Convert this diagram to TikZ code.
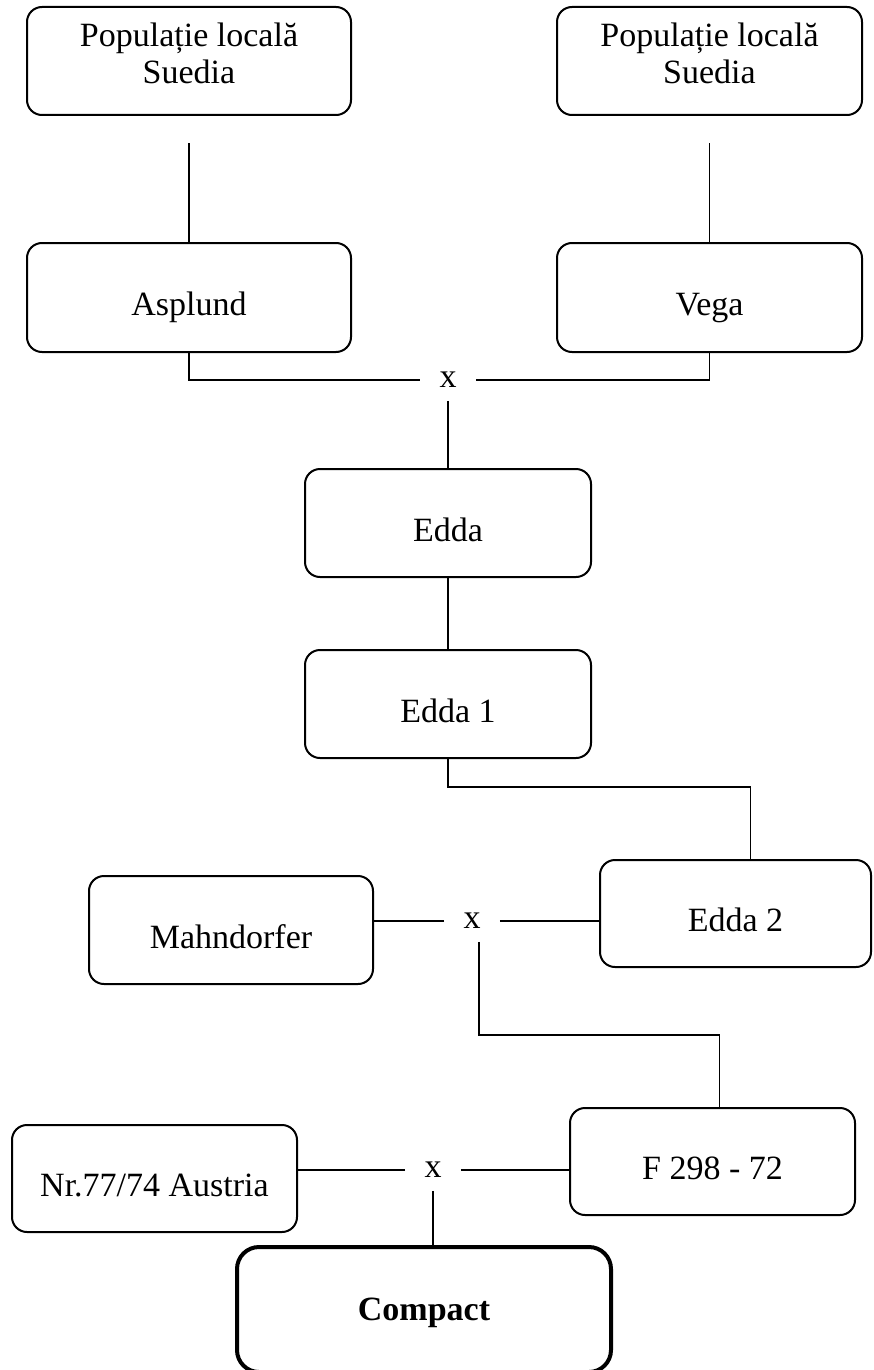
\documentclass[tikz,border=0pt]{standalone}
\usepackage{fontspec}
\setmainfont{Liberation Serif}
\usepackage{tikz}

\begin{document}
\begin{tikzpicture}[x=1pt, y=-1pt, line width=1.6pt,
		box/.style={draw, rounded corners=15pt, line width=2pt, align=center, inner sep=0pt, text height=43pt, text depth=7pt, font=\fontsize{34}{37}\selectfont},
		twoline/.style={text height=53pt, text depth=7pt},
		cross/.style={inner sep=0pt, minimum width=54pt, minimum height=40pt, font=\fontsize{34}{38}\selectfont}]
	\useasboundingbox (0, 0) rectangle (873, 1370);
	
	\node[box, twoline, minimum width=324pt, minimum height=108pt] (pop1) at (189, 61) {Populație locală\\Suedia};
	\node[box, twoline, minimum width=305pt, minimum height=108pt] (pop2) at (709.5, 61) {Populație locală\\Suedia};
	\node[box, minimum width=324pt, minimum height=109pt] (asp) at (189, 297.5) {Asplund};
	\node[box, minimum width=305pt, minimum height=109pt] (vega) at (709.5, 297.5) {Vega};
	\node[cross] (x1) at (448, 380) {x};
	\node[box, minimum width=286pt, minimum height=108pt] (edda) at (448, 523) {Edda};
	\node[box, minimum width=286pt, minimum height=108pt] (edda1) at (448, 704) {Edda 1};
	\node[box, minimum width=271pt, minimum height=107pt] (edda2) at (735.5, 913.5) {Edda 2};
	\node[box, minimum width=284pt, minimum height=108pt] (mahn) at (231, 930) {Mahndorfer};
	\node[cross] (x2) at (472, 921) {x};
	\node[box, minimum width=285pt, minimum height=107pt] (f298) at (712.5, 1161.5) {F 298 - 72};
	\node[box, minimum width=285pt, minimum height=107pt] (aus) at (154.5, 1178.5) {Nr.77/74 Austria};
	\node[cross] (x3) at (433, 1170) {x};
	\node[box, line width=4pt, rounded corners=22pt, text height=28pt, minimum width=374pt, minimum height=125pt] (comp) at (424, 1309.5) {\textbf{Compact}};
	
	\draw ([yshift=-27pt]pop1.south) -- (asp.north);
	\draw ([yshift=-27pt]pop2.south) -- (vega.north);
	\draw (asp.south) |- (x1.west);
	\draw (vega.south) |- (x1.east);
	\draw (x1.south) -- (edda.north);
	\draw (edda.south) -- (edda1.north);
	\draw (edda1.south) -- ++(0, 28) -| ([xshift=15pt]edda2.north);
	\draw (x2.west) -- (x2.west -| mahn.east);
	\draw (x2.east) -- (x2.east -| edda2.west);
	\draw ([xshift=7pt]x2.south) -- ++(0, 93) -| ([xshift=7pt]f298.north);
	\draw (x3.west) -- (x3.west -| aus.east);
	\draw (x3.east) -- (x3.east -| f298.west);
	\draw (x3.south) -- (x3.south |- comp.north);
\end{tikzpicture}
\end{document}
